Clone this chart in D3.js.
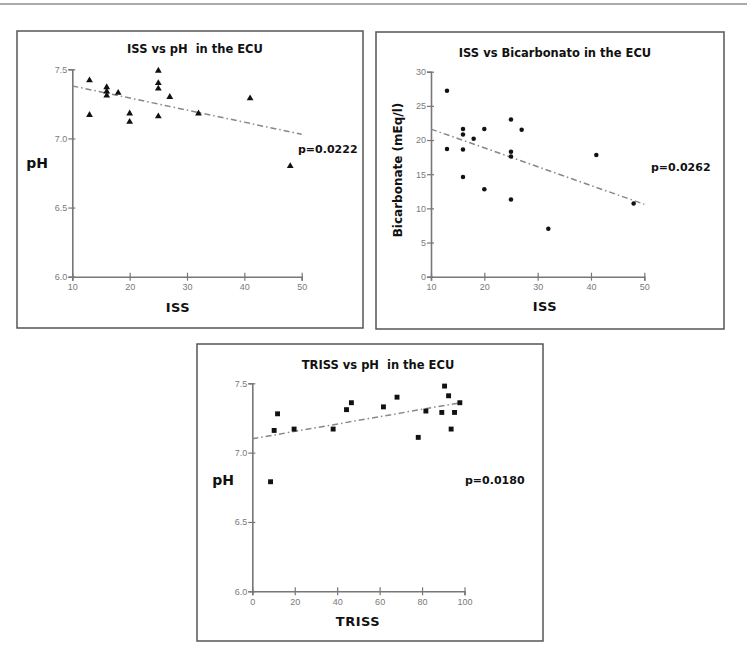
<!DOCTYPE html>
<html>
<head>
<meta charset="utf-8">
<script src="https://cdn.jsdelivr.net/npm/d3@7"></script>
<style>
  body { margin: 0; background: #fff; }
  svg { display: block; }
  .tick text { font-family: "Liberation Sans", Arial, sans-serif; font-size: 9px; }
  .lbl { font-family: "DejaVu Sans", Verdana, sans-serif; font-weight: bold; fill: #111; white-space: pre; }
</style>
</head>
<body>
<svg id="canvas" width="747" height="658"></svg>
<script>
// ISS vs pH
var issPhX = [13, 13, 16, 16, 16, 18, 20, 20, 25, 25, 25, 25, 27, 32, 41, 48];
var issPhY = [7.42, 7.17, 7.37, 7.34, 7.31, 7.33, 7.18, 7.12, 7.49, 7.40, 7.36, 7.16, 7.30, 7.18, 7.29, 6.80];
var issPhTrend = [[10, 7.38], [50, 7.03]];

// ISS vs Bicarbonato
var issBicX = [13, 13, 16, 16, 16, 16, 18, 20, 20, 25, 25, 25, 25, 27, 32, 41, 48];
var issBicY = [27.2, 18.7, 21.6, 20.8, 18.6, 14.6, 20.2, 21.6, 12.8, 23.0, 18.3, 17.6, 11.3, 21.5, 7.0, 17.8, 10.7];
var issBicTrend = [[10, 21.6], [50, 10.6]];

// TRISS vs pH
var trissX = [8.6, 10.3, 11.9, 19.7, 38.1, 44.4, 46.7, 61.8, 68.2, 78.2, 81.8, 89.3, 90.6, 92.5, 93.7, 95.3, 97.8];
var trissY = [6.79, 7.16, 7.28, 7.17, 7.17, 7.31, 7.36, 7.33, 7.40, 7.11, 7.30, 7.29, 7.48, 7.41, 7.17, 7.29, 7.36];
var trissTrend = [[0, 7.10], [98, 7.36]];

var phTicks = [6.0, 6.5, 7.0, 7.5];
var bicTicks = [0, 5, 10, 15, 20, 25, 30];
var issTicks = [10, 20, 30, 40, 50];
var trissTicks = [0, 20, 40, 60, 80, 100];

var svg = d3.select("#canvas");

// thin rule along the top
svg.append("line")
    .attr("x1", 0).attr("x2", 747)
    .attr("y1", 4).attr("y2", 4)
    .attr("stroke", "#aaa")
    .attr("stroke-width", 2);

var panels = [
    {
        frame: [17, 31, 346, 297],
        xr: [72.3, 301.7], yr: [276.7, 69.3],
        xd: [10, 50], yd: [6.0, 7.5],
        xt: issTicks, yt: phTicks, yfmt: d3.format(".1f"),
        xs: issPhX, ys: issPhY, trend: issPhTrend, symbol: d3.symbolTriangle, size: 20,
        title: "ISS vs pH  in the ECU", titlePos: [195, 53],
        ylab: "pH", ylabPos: [37, 168], rot: false,
        xlab: "ISS", xlabPos: [178, 312],
        p: "p=0.0222", pPos: [298, 153]
    },
    {
        frame: [376, 32, 348, 297],
        xr: [431, 644.3], yr: [276.7, 71.7],
        xd: [10, 50], yd: [0, 30],
        xt: issTicks, yt: bicTicks, yfmt: d3.format("d"),
        xs: issBicX, ys: issBicY, trend: issBicTrend, symbol: d3.symbolCircle, size: 16,
        title: "ISS vs Bicarbonato in the ECU", titlePos: [555, 57],
        ylab: "Bicarbonate (mEq/l)", ylabPos: [398, 170], rot: true,
        xlab: "ISS", xlabPos: [545, 311],
        p: "p=0.0262", pPos: [651, 171]
    },
    {
        frame: [197, 344, 346, 297],
        xr: [252.3, 464.5], yr: [591.3, 383.3],
        xd: [0, 100], yd: [6.0, 7.5],
        xt: trissTicks, yt: phTicks, yfmt: d3.format(".1f"),
        xs: trissX, ys: trissY, trend: trissTrend, symbol: d3.symbolSquare, size: 24,
        title: "TRISS vs pH  in the ECU", titlePos: [378, 369],
        ylab: "pH", ylabPos: [223, 485], rot: false,
        xlab: "TRISS", xlabPos: [358, 626],
        p: "p=0.0180", pPos: [465, 484]
    }
];

panels.forEach(function(p) {
    var g = svg.append("g");

    // panel frame
    g.append("rect")
        .attr("x", p.frame[0]).attr("y", p.frame[1])
        .attr("width", p.frame[2]).attr("height", p.frame[3])
        .attr("fill", "#fff")
        .attr("stroke", "#555")
        .attr("stroke-width", 1.5);

    var x = d3.scaleLinear().domain(p.xd).range(p.xr);
    var y = d3.scaleLinear().domain(p.yd).range(p.yr);

    // x axis with ticks crossing the line
    var gx = g.append("g")
        .attr("transform", "translate(0," + p.yr[0] + ")")
        .call(d3.axisBottom(x).tickValues(p.xt).tickSizeOuter(0).tickSize(4).tickPadding(3));
    gx.selectAll(".tick line").attr("y1", -4).attr("stroke", "#777").attr("stroke-width", 1.2);

    // y axis
    var gy = g.append("g")
        .attr("transform", "translate(" + p.xr[0] + ",0)")
        .call(d3.axisLeft(y).tickValues(p.yt).tickFormat(p.yfmt).tickSizeOuter(0).tickSize(4).tickPadding(1));
    gy.selectAll(".tick line").attr("x1", 3).attr("stroke", "#777").attr("stroke-width", 1.2);

    [gx, gy].forEach(function(a) {
        a.select(".domain").attr("stroke", "#777").attr("stroke-width", 1.6);
        a.selectAll(".tick text").attr("fill", "#7a7a7a");
    });

    // regression line (dash-dot)
    g.append("path")
        .datum(p.trend)
        .attr("d", d3.line().x(function(d) { return x(d[0]); }).y(function(d) { return y(d[1]); }))
        .attr("fill", "none")
        .attr("stroke", "#888")
        .attr("stroke-width", 1.5)
        .attr("stroke-dasharray", "6,3,1.5,3");

    // points
    g.selectAll(".pt")
        .data(p.xs.map(function(v, i) { return [v, p.ys[i]]; }))
        .enter()
        .append("path")
        .attr("class", "pt")
        .attr("transform", function(d) { return "translate(" + x(d[0]) + "," + y(d[1]) + ")"; })
        .attr("d", d3.symbol().type(p.symbol).size(p.size))
        .attr("fill", "#111");

    g.append("text").attr("class", "lbl")
        .attr("x", p.titlePos[0]).attr("y", p.titlePos[1])
        .attr("text-anchor", "middle")
        .style("font-size", "11.5px")
        .text(p.title);

    var yl = g.append("text").attr("class", "lbl")
        .attr("text-anchor", "middle")
        .style("font-size", p.rot ? "12px" : "14px")
        .text(p.ylab);
    if (p.rot) {
        yl.attr("transform", "translate(" + p.ylabPos[0] + "," + p.ylabPos[1] + ") rotate(-90)")
            .attr("dy", "0.35em");
    } else {
        yl.attr("x", p.ylabPos[0]).attr("y", p.ylabPos[1]);
    }

    g.append("text").attr("class", "lbl")
        .attr("x", p.xlabPos[0]).attr("y", p.xlabPos[1])
        .attr("text-anchor", "middle")
        .style("font-size", "13px")
        .style("letter-spacing", "0.5px")
        .text(p.xlab);

    g.append("text").attr("class", "lbl")
        .attr("x", p.pPos[0]).attr("y", p.pPos[1])
        .style("font-size", "11px")
        .text(p.p);
});
</script>
</body>
</html>
